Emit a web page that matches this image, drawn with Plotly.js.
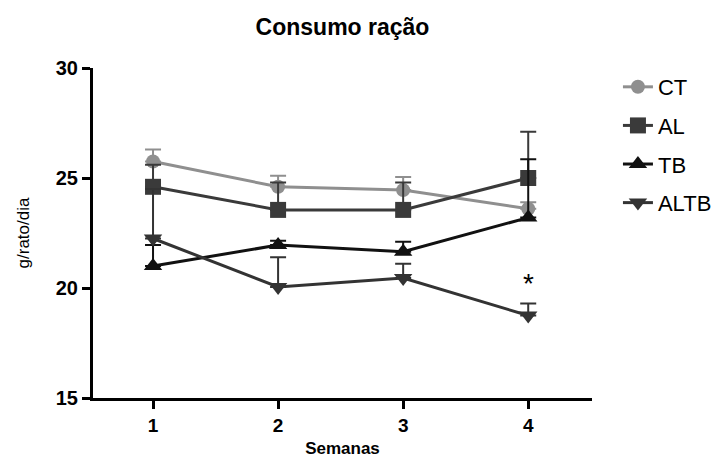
<!DOCTYPE html>
<html>
<head>
<meta charset="utf-8">
<script src="https://cdn.plot.ly/plotly-3.0.1.min.js"></script>
<style>html,body{margin:0;padding:0;background:#fff;}#chart{width:726px;height:459px;}</style>
</head>
<body>
<div id="chart"></div>
<script>
const weeks = [1, 2, 3, 4];
const seriesNames = ['CT', 'AL', 'TB', 'ALTB'];
const ctMean = [25.75, 24.6, 24.45, 23.6];
const ctErr = [0.55, 0.5, 0.6, 0.3];
const alMean = [24.6, 23.55, 23.55, 25.0];
const alErr = [1.0, 1.25, 1.25, 2.1];
const tbMean = [21.0, 21.95, 21.65, 23.2];
const tbErr = [0.95, 0.2, 0.45, 2.65];
const altbMean = [22.25, 20.05, 20.45, 18.75];
const altbErr = [2.25, 1.35, 0.65, 0.55];
const yTicks = [15, 20, 25, 30];

const colors = ['#8f8f8f', '#3a3a3a', '#111111', '#333333'];
const symbols = ['circle', 'square', 'triangle-up', 'triangle-down'];
const sizes = [14, 16, 16, 16];
const means = [ctMean, alMean, tbMean, altbMean];
const errs = [ctErr, alErr, tbErr, altbErr];

const traces = seriesNames.map((n, i) => ({
  x: weeks, y: means[i], name: n, legendgroup: 'g' + i, type: 'scatter', mode: 'lines+markers',
  line: {color: colors[i], width: 3},
  marker: {symbol: symbols[i], size: sizes[i], color: colors[i]},
  error_y: {type: 'data', symmetric: false, array: errs[i], arrayminus: errs[i].map(() => 0),
            color: colors[i], thickness: 2, width: 8}
}));

const font = {family: 'Liberation Sans, Arial, sans-serif', color: '#000'};
const layout = {
  width: 726, height: 459,
  margin: {l: 93, r: 134, t: 68, b: 61, autoexpand: false},
  paper_bgcolor: '#fff', plot_bgcolor: '#fff',
  font: font,
  showlegend: true,
  title: {text: '<b>Consumo ração</b>', font: {family: font.family, size: 23, color: '#000'},
          x: 0.5, xref: 'paper', y: 0.958, yref: 'container', xanchor: 'center'},
  xaxis: {range: [0.52, 4.51], tickvals: weeks, ticktext: weeks.map(w => '<b>' + w + '</b>'),
          showgrid: false, zeroline: false, showline: true, linecolor: '#000', linewidth: 3,
          ticks: 'outside', ticklen: 8, tickwidth: 3, tickcolor: '#000',
          tickfont: {family: font.family, size: 19, color: '#000'},
          title: {text: '<b>Semanas</b>', font: {family: font.family, size: 17, color: '#000'}, standoff: 8}},
  yaxis: {range: [15, 30], tickvals: yTicks, ticktext: yTicks.map(t => '<b>' + t + '</b>'),
          showgrid: false, zeroline: false, showline: true, linecolor: '#000', linewidth: 3,
          ticks: 'outside', ticklen: 8, tickwidth: 3, tickcolor: '#000',
          tickfont: {family: font.family, size: 20, color: '#000'},
          title: {text: 'g/rato/dia', font: {family: font.family, size: 17, color: '#000'}, standoff: 22}},
  legend: {x: 1.052, xanchor: 'left', y: 1.006, yanchor: 'top', font: {family: font.family, size: 22, color: '#000'},
           itemwidth: 30, tracegroupgap: 7, traceorder: 'grouped'},
  annotations: [{x: 4, y: 20.2, xref: 'x', yref: 'y', text: '*', showarrow: false,
                 font: {family: font.family, size: 28, color: '#000'}}]
};
Plotly.newPlot('chart', traces, layout, {displayModeBar: false, staticPlot: true});
</script>
</body>
</html>
